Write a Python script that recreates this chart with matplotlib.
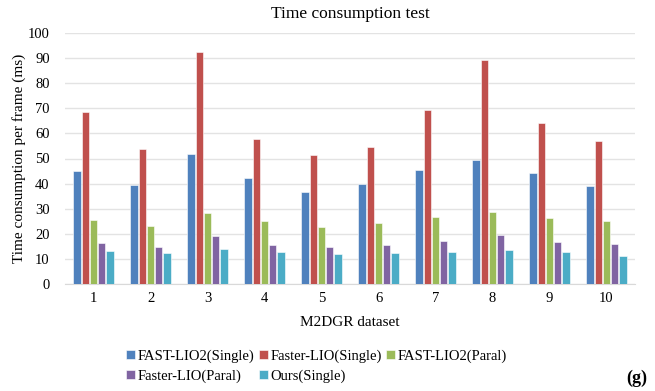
import numpy as np
from matplotlib import pyplot as plt

plt.rcParams['font.family'] = ['Liberation Serif', 'DejaVu Serif']

datasets = ["1", "2", "3", "4", "5", "6", "7", "8", "9", "10"]
series_names = ["FAST-LIO2(Single)", "Faster-LIO(Single)", "FAST-LIO2(Paral)",
                "Faster-LIO(Paral)", "Ours(Single)"]
fastlio2_single = [44.9, 39.4, 51.9, 42.4, 36.6, 39.8, 45.4, 49.6, 44.1, 39.2]
fasterlio_single = [68.5, 53.9, 92.5, 57.9, 51.5, 54.7, 69.4, 89.2, 64.1, 57.1]
fastlio2_paral = [25.5, 23.1, 28.4, 25.2, 22.7, 24.4, 26.7, 28.8, 26.3, 25.2]
fasterlio_paral = [16.5, 14.7, 19.2, 15.4, 14.6, 15.4, 17.0, 19.6, 16.7, 16.1]
ours_single = [13.3, 12.2, 13.9, 12.7, 11.8, 12.4, 12.6, 13.7, 12.9, 11.2]
colors = ["#4F81BD", "#C0504D", "#9BBB59", "#8064A2", "#4BACC6"]

all_series = [fastlio2_single, fasterlio_single, fastlio2_paral, fasterlio_paral, ours_single]

fig = plt.figure(figsize=(6.55, 3.91), dpi=100)
ax = fig.add_axes([65 / 655, 1 - 284 / 391, 570 / 655, 251 / 391])

x = np.arange(len(datasets))
pitch = 0.146
width = 0.128
handles = []
for i, (vals, name, col) in enumerate(zip(all_series, series_names, colors)):
    h = ax.bar(x + (i - 2) * pitch, vals, width, color=col, label=name,
               edgecolor="white", linewidth=0.4, zorder=3)
    handles.append(h)

ax.set_xlim(-0.5, len(datasets) - 0.5)
ax.set_ylim(0, 100)
ax.set_yticks(range(0, 101, 10))
ax.set_xticks(x)
ax.set_xticklabels(datasets)
ax.grid(axis="y", color="#E3E3E3", linewidth=1.0, zorder=0)
for s in ["top", "right", "left"]:
    ax.spines[s].set_visible(False)
ax.spines["bottom"].set_color("#D9D9D9")
ax.tick_params(axis="both", length=0, labelsize=10.5)
ax.tick_params(axis="y", pad=11)
ax.tick_params(axis="x", pad=6)

ax.set_title("Time consumption test", fontsize=12.5, pad=11)
ax.set_xlabel("M2DGR dataset", fontsize=11, labelpad=8)
ax.set_ylabel("Time consumption per frame (ms)", fontsize=11, labelpad=1)

order = [0, 3, 1, 4, 2]
fig.legend([handles[k] for k in order], [series_names[k] for k in order],
           ncol=3, loc="upper left", bbox_to_anchor=(113 / 655, 1 - 336 / 391),
           frameon=False, fontsize=10.5, handlelength=0.6, handleheight=0.6,
           handletextpad=0.2, columnspacing=0.3, labelspacing=0.45)

fig.text(637 / 655, 1 - 378 / 391, "(g)", fontsize=13, fontweight="bold",
         ha="center", va="center")

fig.savefig("out.png", dpi=100)
